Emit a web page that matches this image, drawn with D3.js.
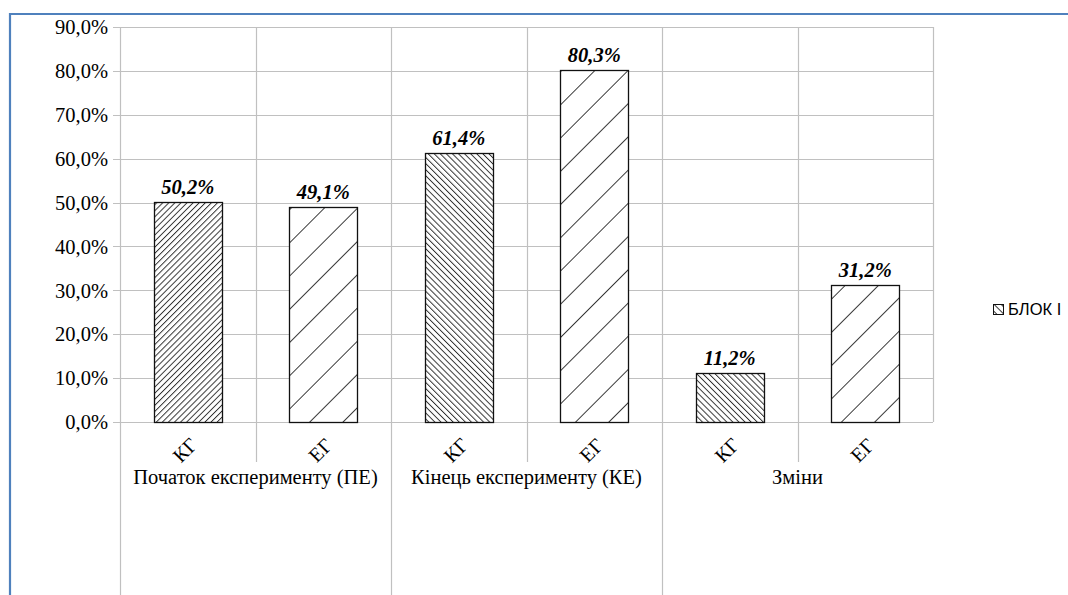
<!DOCTYPE html>
<html><head><meta charset="utf-8">
<script src="https://cdn.jsdelivr.net/npm/d3@7"></script>
<style>body{margin:0;background:#fff}svg{display:block}</style>
</head><body>
<svg id="c" width="1068" height="595"></svg>
<script>
const groups = ["Початок експерименту (ПЕ)", "Кінець експерименту (КЕ)", "Зміни"];
const subgroups = ["КГ", "ЕГ"];
const values = [50.2, 49.1, 61.4, 80.3, 11.2, 31.2];
const yTicks = [0,10,20,30,40,50,60,70,80,90];
const patterns = ["denseFwd","sparseFwd","denseBack","sparseFwd","denseBack","sparseFwd"];
const legendLabel = "БЛОК І";

const svg = d3.select("#c");
const W = 1068, H = 595;
const m = {l:120, r:933, t:27, b:422};
const serif = "'Liberation Serif','Times New Roman',serif";

// patterns
const defs = svg.append("defs");
function pat(id, spacing, angle){
  const p = defs.append("pattern").attr("id", id).attr("patternUnits","userSpaceOnUse")
    .attr("width", spacing).attr("height", 10).attr("patternTransform", `rotate(${angle})`);
  p.append("rect").attr("width", spacing).attr("height",10).attr("fill","#fff");
  p.append("line").attr("x1",0.5).attr("x2",0.5).attr("y1",0).attr("y2",10)
    .attr("stroke","#222").attr("stroke-width",0.9);
}
pat("denseFwd", 4.3, 45);
pat("denseBack", 4.3, -45);
pat("sparseFwd", 23.5, 45);
pat("legendPat", 5, -45);

// blue frame
svg.append("line").attr("x1",10).attr("x2",W).attr("y1",14).attr("y2",14).attr("stroke","#4f81bd").attr("stroke-width",2.2);
svg.append("line").attr("x1",10).attr("x2",10).attr("y1",13).attr("y2",H).attr("stroke","#4f81bd").attr("stroke-width",2.2);

const cats = [];
groups.forEach(g => subgroups.forEach(s => cats.push(g + "|" + s)));

const x = d3.scaleBand().domain(cats).range([m.l, m.r]).paddingInner(0).paddingOuter(0);
const y = d3.scaleLinear().domain([0, 90]).range([m.b, m.t]);

const grid = "#c0c0c0";
// horizontal gridlines
svg.append("g").selectAll("line").data(yTicks).join("line")
  .attr("x1", m.l - 7).attr("x2", m.r)
  .attr("y1", d => Math.round(y(d)) + 0.5).attr("y2", d => Math.round(y(d)) + 0.5)
  .attr("stroke", grid).attr("stroke-width", 1.2);

// vertical gridlines
const bounds = cats.map(c => x(c)).concat([m.r]);
svg.append("g").selectAll("line").data(bounds).join("line")
  .attr("x1", d => Math.round(d) + 0.5).attr("x2", d => Math.round(d) + 0.5)
  .attr("y1", m.t)
  .attr("y2", (d, i) => (i % 2 === 0 ? (i === 6 ? m.b : H) : 462))
  .attr("stroke", grid).attr("stroke-width", 1.2);

// y axis labels
const yAxis = d3.axisLeft(y).tickValues(yTicks).tickSize(0).tickPadding(0)
  .tickFormat(d => d3.format(".1f")(d).replace(".", ",") + "%");
const ya = svg.append("g").attr("transform", `translate(${m.l - 12},0)`).call(yAxis);
ya.select(".domain").remove();
ya.selectAll("text").attr("font-family", serif).attr("font-size", 20.5).attr("fill", "#000").attr("dy", "0.33em");

// bars
const bw = x.bandwidth() * 0.5;
svg.append("g").selectAll("rect").data(values).join("rect")
  .attr("x", (d, i) => Math.round(x(cats[i]) + (x.bandwidth() - bw) / 2) + 0.5)
  .attr("y", d => Math.round(y(d)) + 0.5)
  .attr("width", Math.round(bw))
  .attr("height", d => Math.round(y(0)) - Math.round(y(d)))
  .attr("fill", (d, i) => `url(#${patterns[i]})`)
  .attr("stroke", "#111").attr("stroke-width", 1.3);

// value labels
svg.append("g").selectAll("text").data(values).join("text")
  .attr("x", (d, i) => x(cats[i]) + x.bandwidth() / 2)
  .attr("y", d => y(d) - 8)
  .attr("text-anchor", "middle")
  .attr("font-family", serif).attr("font-size", 20.5).attr("font-weight", "bold").attr("font-style", "italic")
  .attr("fill", "#000")
  .text(d => d3.format(".1f")(d).replace(".", ",") + "%");

// sub labels rotated
svg.append("g").selectAll("text").data(cats).join("text")
  .attr("transform", c => `translate(${x(c) + x.bandwidth() / 2 + 2},${455}) rotate(-45)`)
  .attr("text-anchor", "middle")
  .attr("font-family", serif).attr("font-size", 20).attr("fill", "#000")
  .text(c => c.split("|")[1]);

// group labels
svg.append("g").selectAll("text").data(groups).join("text")
  .attr("x", g => x(g + "|" + subgroups[1]))
  .attr("y", 484)
  .attr("text-anchor", "middle")
  .attr("font-family", serif).attr("font-size", 20.5).attr("fill", "#000")
  .text(g => g);

// legend
const lg = svg.append("g").attr("transform", "translate(993,304)");
lg.append("rect").attr("x", 0.5).attr("y", 0.5).attr("width", 10).attr("height", 10)
  .attr("fill", "url(#legendPat)").attr("stroke", "#111").attr("stroke-width", 1);
lg.append("text").attr("x", 15).attr("y", 11)
  .attr("font-family", "'Liberation Sans',Arial,sans-serif").attr("font-size", 16.5).attr("fill", "#000")
  .text(legendLabel);
</script>
</body></html>
